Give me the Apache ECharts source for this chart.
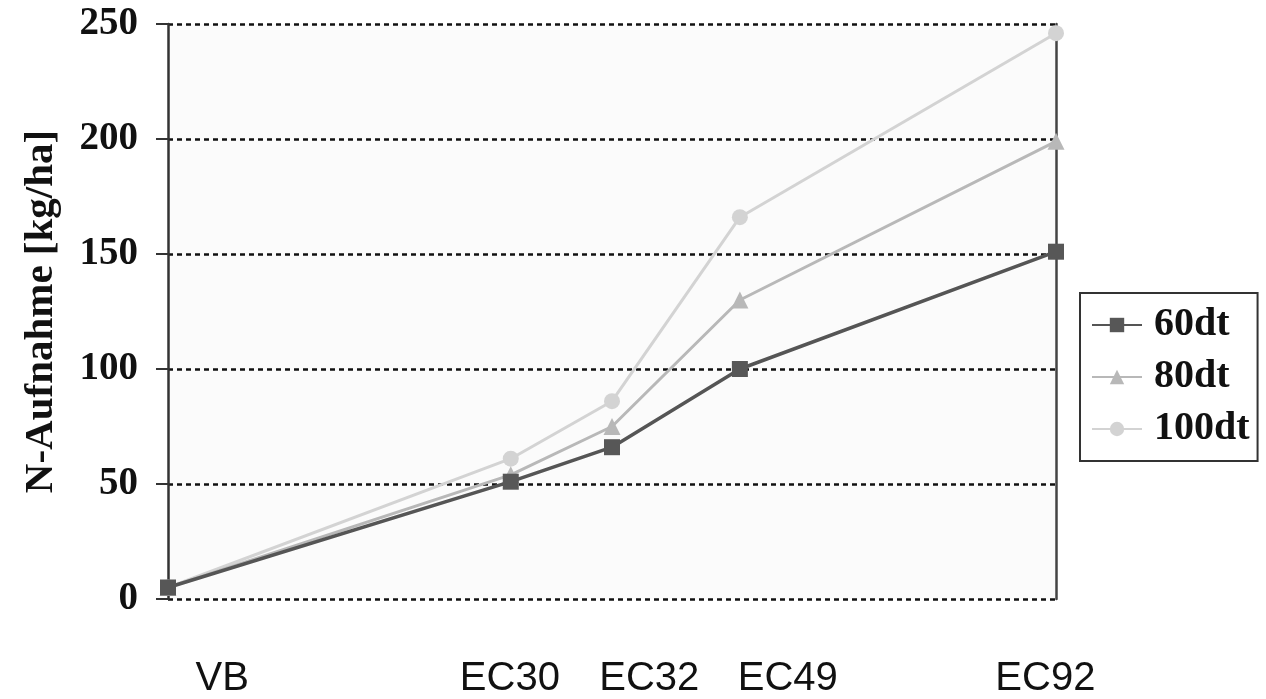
<!DOCTYPE html>
<html>
<head>
<meta charset="utf-8">
<script src="https://cdn.jsdelivr.net/npm/echarts@6/dist/echarts.min.js"></script>
<style>
  html, body { margin: 0; padding: 0; background: #ffffff; }
  #chart { width: 1266px; height: 699px; }
</style>
</head>
<body>
<div id="chart"></div>
<script>
// Stages (categories) and their position along the season (0..100 scale)
const stages = ['VB', 'EC30', 'EC32', 'EC49', 'EC92'];
const stagePositions = [0, 38.6, 50.0, 64.4, 100];
// Where the stage labels sit under the chart (same 0..100 scale)
const stageLabelPositions = [6.1, 38.5, 54.2, 69.8, 98.8];

const seriesNames = ['60dt', '80dt', '100dt'];
const values60 = [5, 51, 66, 100, 151];
const values80 = [5, 54, 75, 130, 199];
const values100 = [5, 61, 86, 166, 246];

const yTicks = [0, 50, 100, 150, 200, 250];

const toPoints = (vals) => vals.map((v, i) => [stagePositions[i], v]);

const serif = '"Liberation Serif", "Times New Roman", serif';
const sans = '"Liberation Sans", Arial, sans-serif';

const chart = echarts.init(document.getElementById('chart'), null, { renderer: 'canvas' });

const gridLineStyle = { color: '#111', width: 2.5, type: [5, 4] };

const option = {
  animation: false,
  backgroundColor: '#ffffff',
  grid: {
    left: 168, right: 210, top: 24, bottom: 97,
    show: true, backgroundColor: '#fbfbfb', borderWidth: 0
  },
  legend: {
    orient: 'vertical',
    left: 1080, top: 293,
    width: 180,
    padding: [12, 8, 12, 11],
    borderColor: '#333', borderWidth: 2,
    itemWidth: 50, itemHeight: 18, itemGap: 12,
    textStyle: {
      fontFamily: serif, fontWeight: 'bold', fontSize: 40, color: '#111',
      lineHeight: 40, padding: [0, 0, 0, 7]
    },
    data: seriesNames
  },
  xAxis: [
    {
      type: 'value', min: 0, max: 100,
      axisLine: { show: false }, axisTick: { show: false },
      axisLabel: { show: false }, splitLine: { show: false }
    },
    {
      type: 'value', min: 0, max: 100, position: 'bottom',
      axisLine: { show: false }, axisTick: { show: false }, splitLine: { show: false },
      axisLabel: {
        show: true,
        customValues: stageLabelPositions,
        margin: 60,
        fontFamily: sans, fontSize: 40, color: '#111',
        formatter: (v) => {
          const idx = stageLabelPositions.indexOf(v);
          return idx >= 0 ? stages[idx] : '';
        }
      }
    }
  ],
  yAxis: [
    {
      type: 'value', min: 0, max: 250, interval: 50,
      name: 'N-Aufnahme [kg/ha]', nameLocation: 'middle', nameGap: 106,
      nameTextStyle: { fontFamily: serif, fontWeight: 'bold', fontSize: 41, color: '#111' },
      axisLine: { show: true, onZero: false, lineStyle: { color: '#333', width: 2.5 } },
      axisTick: { show: true, length: 12, lineStyle: { color: '#333', width: 2 } },
      axisLabel: {
        margin: 30, fontFamily: serif, fontWeight: 'bold', fontSize: 39, color: '#111',
        formatter: (v) => (yTicks.includes(v) ? String(v) : '')
      },
      splitLine: { show: true, lineStyle: gridLineStyle }
    },
    {
      type: 'value', min: 0, max: 250, interval: 50, position: 'right',
      axisLine: { show: true, onZero: false, lineStyle: { color: '#444', width: 2.5 } },
      axisTick: { show: false }, axisLabel: { show: false }, splitLine: { show: false }
    }
  ],
  series: [
    {
      name: seriesNames[0], type: 'line', data: toPoints(values60),
      symbol: 'rect', symbolSize: 16,
      lineStyle: { color: '#555555', width: 3.5 },
      itemStyle: { color: '#575757' }, z: 5
    },
    {
      name: seriesNames[1], type: 'line', data: toPoints(values80),
      symbol: 'triangle', symbolSize: 17,
      lineStyle: { color: '#b8b8b8', width: 3 },
      itemStyle: { color: '#b8b8b8' }, z: 4
    },
    {
      name: seriesNames[2], type: 'line', data: toPoints(values100),
      symbol: 'circle', symbolSize: 16,
      lineStyle: { color: '#d3d3d3', width: 3 },
      itemStyle: { color: '#d3d3d3' }, z: 3
    }
  ]
};

chart.setOption(option);
</script>
</body>
</html>
